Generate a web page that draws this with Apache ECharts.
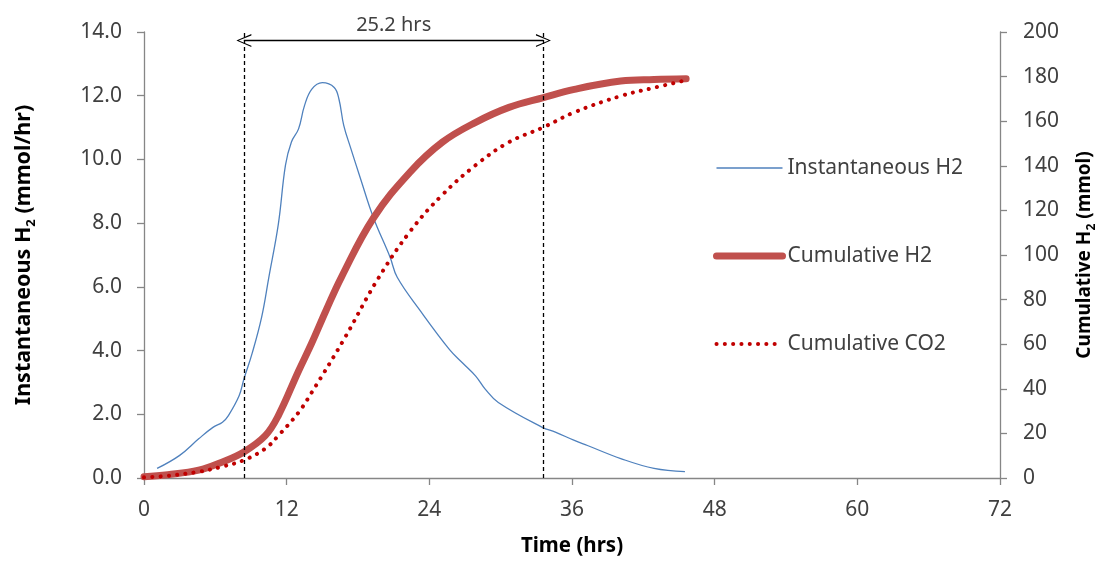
<!DOCTYPE html>
<html>
<head>
<meta charset="utf-8">
<script src="https://cdn.jsdelivr.net/npm/echarts@6/dist/echarts.min.js"></script>
<style>
html,body{margin:0;padding:0;background:#fff;overflow:hidden;}
#chart{width:1106px;height:562px;}
</style>
</head>
<body>
<div id="chart"></div>
<script>
// ---- data ----
const instTime = [1.1, 3.0, 4.6, 5.8, 6.6, 7.1, 8.0, 8.4, 9.1, 9.9, 10.5, 11.3, 11.9, 12.4, 13.0, 13.5, 14.1, 15.0, 16.0, 16.4, 16.8, 17.4, 18.2, 19.3, 20.7, 21.3, 23.2, 25.7, 26.8, 27.9, 28.7, 29.8, 33.5, 34.6, 36.2, 37.3, 40.1, 42.9, 45.5];
const instH2   = [0.30, 0.71, 1.23, 1.59, 1.75, 1.96, 2.58, 3.10, 3.92, 5.06, 6.30, 7.97, 9.82, 10.55, 10.96, 11.69, 12.20, 12.41, 12.26, 11.89, 11.07, 10.34, 9.41, 8.17, 6.93, 6.30, 5.27, 4.03, 3.61, 3.20, 2.79, 2.37, 1.59, 1.44, 1.18, 1.02, 0.61, 0.30, 0.20];

const cumH2Time = [0, 2, 4.6, 6.5, 8.4, 10.2, 11.3, 13.0, 14.1, 15.3, 16.6, 19.3, 22.4, 25.1, 27.9, 30.7, 33.6, 36.2, 40.1, 42.9, 45.6];
const cumH2     = [0.6, 1.5, 3.5, 7.0, 11.7, 19.0, 28.0, 48.0, 60.4, 75.0, 90.0, 116.6, 137.3, 150.6, 159.5, 166.2, 170.6, 174.3, 178.0, 178.7, 179.0];

const cumCO2Time = [0, 2, 4.6, 6.5, 8.4, 10.2, 11.3, 13.0, 14.1, 16.8, 19.6, 22.4, 25.1, 27.9, 30.7, 33.6, 36.2, 40.1, 42.9, 45.3];
const cumCO2     = [0.3, 1.0, 2.8, 5.0, 8.0, 13.2, 19.0, 29.4, 38.3, 62.0, 88.6, 110.7, 127.0, 140.3, 150.6, 157.3, 164.0, 171.3, 175.0, 178.0];

const seriesNames = ['Instantaneous H2', 'Cumulative H2', 'Cumulative CO2'];
const xTicks = [0, 12, 24, 36, 48, 60, 72];
const leftTicks = [0, 2, 4, 6, 8, 10, 12, 14];
const rightTicks = [0, 20, 40, 60, 80, 100, 120, 140, 160, 180, 200];
const markerTimes = [8.4, 33.6];     // vertical dashed lines
const spanLabel = '25.2 hrs';
const spanLevel = 13.73;             // left-axis level of the span arrow

const pairs = (xs, ys) => xs.map((x, i) => [x, ys[i]]);

const FONT = '"Noto Sans", "Open Sans", sans-serif';
const TXT = '#404040';
const AXIS = '#868686';
const chevron = 'path://M5,0 L10,10 L8.9,10 L5,1.6 L1.1,10 L0,10 Z';

const BLUE = '#4f81bd', RED = '#c0504d', DRED = '#c00000';
const blueLine = { color: BLUE, width: 1.3 };
const redLine = { color: RED, width: 7, cap: 'round' };
const dotLine = { color: DRED, width: 4, type: [0.1, 8.2], cap: 'round' };

const chart = echarts.init(document.getElementById('chart'), null, { width: 1106, height: 562 });
chart.setOption({
  animation: false,
  backgroundColor: '#ffffff',
  textStyle: { fontFamily: FONT, color: TXT },
  grid: { left: 144, right: 95, top: 32, bottom: 79, containLabel: false },
  legend: {
    data: [
      { name: seriesNames[0], lineStyle: blueLine },
      { name: seriesNames[1], lineStyle: redLine },
      { name: seriesNames[2], lineStyle: dotLine }
    ],
    orient: 'vertical',
    left: 708,
    top: 151,
    itemWidth: 66,
    itemHeight: 24,
    itemGap: 64,
    itemStyle: { opacity: 0 },
    textStyle: { fontFamily: FONT, fontSize: 21, lineHeight: 24, color: TXT },
    selectedMode: false
  },
  xAxis: {
    type: 'value',
    min: xTicks[0], max: xTicks[xTicks.length - 1], interval: 12,
    name: 'Time (hrs)',
    nameLocation: 'middle',
    nameGap: 58,
    nameTextStyle: { fontFamily: FONT, fontSize: 20.5, fontWeight: 'bold', color: '#000' },
    axisLine: { lineStyle: { color: AXIS, width: 1.3 } },
    axisTick: { show: true, inside: false, length: 7, lineStyle: { color: AXIS, width: 1.3 } },
    axisLabel: { fontFamily: FONT, fontSize: 21, color: TXT, margin: 22 },
    splitLine: { show: false }
  },
  yAxis: [{
    type: 'value', position: 'left',
    min: leftTicks[0], max: leftTicks[leftTicks.length - 1], interval: 2,
    name: '{b|Instantaneous H}{s|2}{b| (mmol/hr)}',
    nameLocation: 'middle', nameRotate: 90, nameGap: 106,
    nameTextStyle: {
      rich: {
        b: { fontFamily: FONT, fontSize: 21.5, fontWeight: 'bold', color: '#000', lineHeight: 28 },
        s: { fontFamily: FONT, fontSize: 13, fontWeight: 'bold', color: '#000', lineHeight: 13, verticalAlign: 'bottom' }
      }
    },
    axisLine: { show: true, lineStyle: { color: AXIS, width: 1.3 } },
    axisTick: { show: true, inside: false, length: 7, lineStyle: { color: AXIS, width: 1.3 } },
    axisLabel: { fontFamily: FONT, fontSize: 21, color: TXT, margin: 22, formatter: v => v.toFixed(1) },
    splitLine: { show: false }
  }, {
    type: 'value', position: 'right',
    min: rightTicks[0], max: rightTicks[rightTicks.length - 1], interval: 20,
    name: '{b|Cumulative H}{s|2}{b| (mmol)}',
    nameLocation: 'middle', nameRotate: 90, nameGap: 72,
    nameTextStyle: {
      rich: {
        b: { fontFamily: FONT, fontSize: 19, fontWeight: 'bold', color: '#000', lineHeight: 26 },
        s: { fontFamily: FONT, fontSize: 12, fontWeight: 'bold', color: '#000', lineHeight: 12, verticalAlign: 'bottom' }
      }
    },
    axisLine: { show: true, lineStyle: { color: AXIS, width: 1.3 } },
    axisTick: { show: true, inside: false, length: 7, lineStyle: { color: AXIS, width: 1.3 } },
    axisLabel: { fontFamily: FONT, fontSize: 21, color: TXT, margin: 23 },
    splitLine: { show: false }
  }],
  series: [{
    name: seriesNames[0],
    type: 'line', yAxisIndex: 0,
    data: pairs(instTime, instH2),
    smooth: 0.4, showSymbol: false, symbol: 'none',
    color: BLUE,
    lineStyle: blueLine,
    z: 3,
    markLine: {
      silent: true, animation: false,
      symbol: ['none', 'none'],
      label: { show: false },
      lineStyle: { color: '#000', type: [4, 3], width: 1.3 },
      data: markerTimes.map(t => ({ xAxis: t }))
    }
  }, {
    name: seriesNames[1],
    type: 'line', yAxisIndex: 1,
    data: pairs(cumH2Time, cumH2),
    smooth: 0.4, showSymbol: false, symbol: 'none',
    color: RED,
    lineStyle: redLine,
    z: 4,
    markLine: {
      silent: true, animation: false,
      symbol: [chevron, chevron],
      symbolSize: [13, 15],
      lineStyle: { color: '#000', type: 'solid', width: 1.3 },
      label: { show: true, position: 'middle', formatter: spanLabel, fontFamily: FONT, fontSize: 20, color: TXT, distance: 5 },
      data: [[{ coord: [markerTimes[0], spanLevel * 200 / 14] }, { coord: [markerTimes[1], spanLevel * 200 / 14] }]]
    }
  }, {
    name: seriesNames[2],
    type: 'line', yAxisIndex: 1,
    data: pairs(cumCO2Time, cumCO2),
    smooth: 0.4, showSymbol: false, symbol: 'none',
    color: DRED,
    lineStyle: dotLine,
    z: 5
  }]
});
</script>
</body>
</html>
